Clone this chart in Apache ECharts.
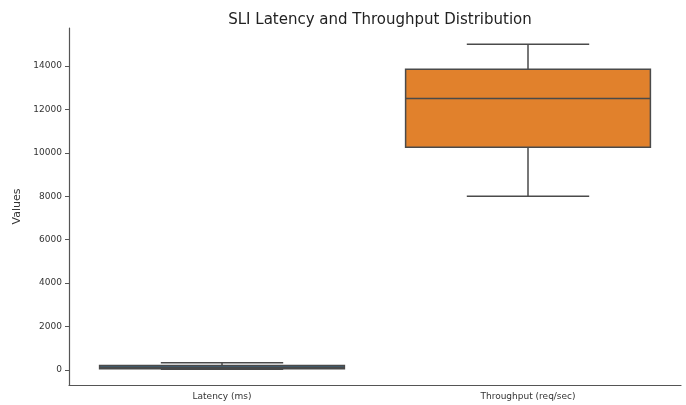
<!DOCTYPE html>
<html><head><meta charset="utf-8">
<script src="https://cdn.jsdelivr.net/npm/echarts@6/dist/echarts.min.js"></script>
<style>html,body{margin:0;padding:0;background:#fff}#c{width:686px;height:405px}</style>
</head><body><div id="c"></div>
<script>
const categories = ['Latency (ms)', 'Throughput (req/sec)'];
// [min, Q1, median, Q3, max]
const latencyStats = [20, 50, 120, 200, 320];
const throughputStats = [8000, 10250, 12500, 13850, 15000];
const boxColors = ['#3274a1', '#e1812c'];
const yTicks = [0, 2000, 4000, 6000, 8000, 10000, 12000, 14000];

const data = [
  [0].concat(latencyStats),
  [1].concat(throughputStats)
];

const chart = echarts.init(document.getElementById('c'), null, {renderer: 'canvas'});
const lineCol = '#4a4a4a';
chart.setOption({
  animation: false,
  backgroundColor: '#fff',
  title: {
    text: 'SLI Latency and Throughput Distribution',
    left: 375, top: 8, textAlign: 'center',
    textStyle: {fontFamily: 'DejaVu Sans', fontSize: 15, fontWeight: 'normal', color: '#222'}
  },
  grid: {left: 69, right: 5, top: 28, bottom: 20, containLabel: false},
  xAxis: {
    type: 'category', data: categories, boundaryGap: true,
    axisLine: {onZero: false, lineStyle: {color: '#555', width: 1.2}},
    axisTick: {alignWithLabel: true, length: 4, lineStyle: {color: '#555'}},
    axisLabel: {fontFamily: 'DejaVu Sans', fontSize: 9, color: '#333', margin: 7},
    splitLine: {show: false}
  },
  yAxis: {
    type: 'value', min: -700, max: 15750,
    name: 'Values', nameLocation: 'middle', nameGap: 39, nameRotate: 90,
    nameTextStyle: {fontFamily: 'DejaVu Sans', fontSize: 11, color: '#333'},
    axisLine: {show: true, lineStyle: {color: '#555', width: 1.2}},
    axisTick: {show: true, length: 4, lineStyle: {color: '#555'},
      customValues: yTicks},
    axisLabel: {fontFamily: 'DejaVu Sans', fontSize: 9, color: '#333', margin: 7,
      customValues: yTicks, formatter: function (v) { return String(v); }},
    splitLine: {show: false}
  },
  series: [{
    type: 'custom',
    data: data,
    encode: {x: 0, y: [1, 2, 3, 4, 5]},
    renderItem: function (params, api) {
      const idx = api.value(0);
      const bw = api.size([1, 0])[0];
      const boxW = bw * 0.8, capW = boxW * 0.5;
      const cx = api.coord([idx, 0])[0];
      const yMin = api.coord([idx, api.value(1)])[1];
      const yQ1 = api.coord([idx, api.value(2)])[1];
      const yMed = api.coord([idx, api.value(3)])[1];
      const yQ3 = api.coord([idx, api.value(4)])[1];
      const yMax = api.coord([idx, api.value(5)])[1];
      const ls = {stroke: lineCol, lineWidth: 1.5};
      return {
        type: 'group',
        children: [
          {type: 'line', shape: {x1: cx, y1: yQ3, x2: cx, y2: yMax}, style: ls},
          {type: 'line', shape: {x1: cx, y1: yQ1, x2: cx, y2: yMin}, style: ls},
          {type: 'line', shape: {x1: cx - capW / 2, y1: yMax, x2: cx + capW / 2, y2: yMax}, style: ls},
          {type: 'line', shape: {x1: cx - capW / 2, y1: yMin, x2: cx + capW / 2, y2: yMin}, style: ls},
          {type: 'rect', shape: {x: cx - boxW / 2, y: yQ3, width: boxW, height: yQ1 - yQ3},
            style: {fill: boxColors[idx], stroke: lineCol, lineWidth: 1.5}},
          {type: 'line', shape: {x1: cx - boxW / 2, y1: yMed, x2: cx + boxW / 2, y2: yMed}, style: ls}
        ]
      };
    }
  }]
});
</script></body></html>
